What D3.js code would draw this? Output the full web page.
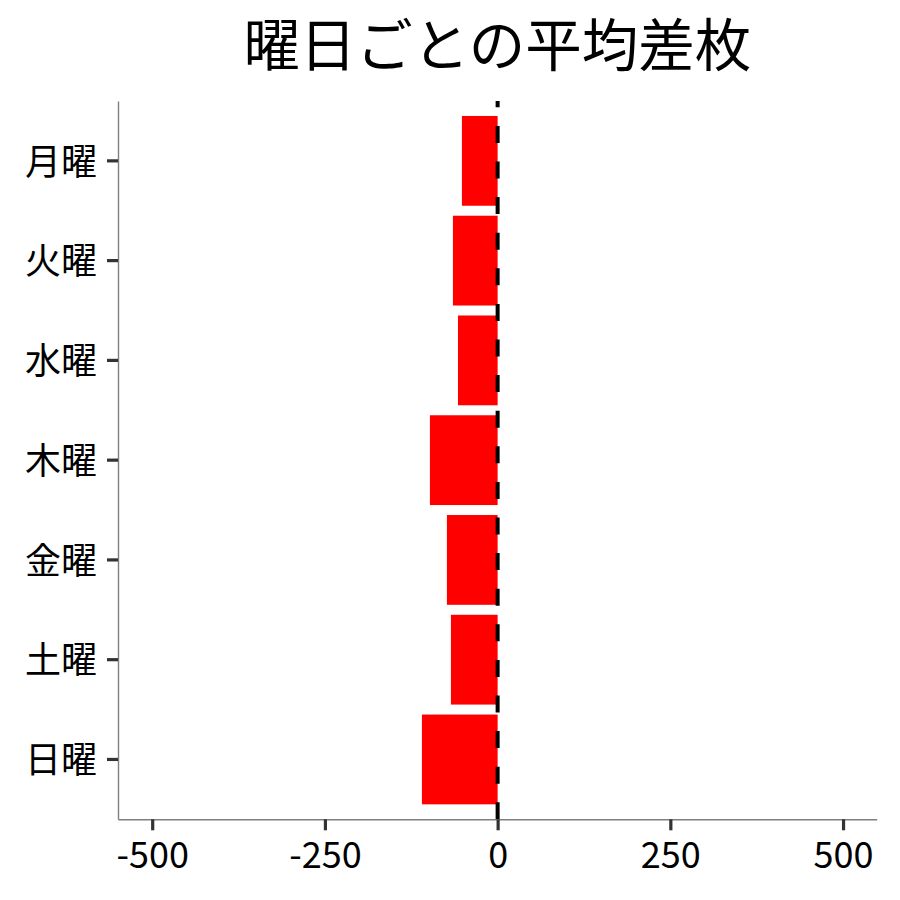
<!DOCTYPE html>
<html>
<head>
<meta charset="utf-8">
<script src="https://cdn.jsdelivr.net/npm/d3@7"></script>
<style>
  html, body { margin: 0; padding: 0; background: #fff; }
  svg { display: block; }
  text { font-family: "Noto Sans CJK JP", "Noto Sans", sans-serif; }
</style>
</head>
<body>
<svg id="chart" width="900" height="900"></svg>
<script>
const title = "曜日ごとの平均差枚";
const days = ["月曜", "火曜", "水曜", "木曜", "金曜", "土曜", "日曜"];
const avgDiff = [-51.7, -64.7, -57.4, -98, -73.4, -67.6, -109.6];
const xTicks = [-500, -250, 0, 250, 500];
const xDomain = [-549.5, 548.7];

(function () {
const data = days.map((d, i) => ({ day: d, value: avgDiff[i] }));

const svg = d3.select("#chart");
const pLeft = 118, pRight = 876.7, pTop = 101, pBottom = 819.3;

const x = d3.scaleLinear().domain(xDomain).range([pLeft, pRight]);
const y = d3.scaleBand().domain(days).range([pTop, pBottom])
  .paddingInner(0.1).paddingOuter(0.15);

// bars
svg.append("g").selectAll("rect").data(data).join("rect")
  .attr("x", d => x(Math.min(0, d.value)))
  .attr("y", d => y(d.day))
  .attr("width", d => Math.abs(x(d.value) - x(0)))
  .attr("height", y.bandwidth())
  .attr("fill", "#ff0000");

// zero line (dashed), drawn from bottom to top
svg.append("line")
  .attr("x1", x(0)).attr("x2", x(0))
  .attr("y1", pBottom).attr("y2", pTop)
  .attr("stroke", "#000")
  .attr("stroke-width", 4)
  .attr("stroke-dasharray", "17,18.6");

// x axis
const gx = svg.append("g").attr("transform", `translate(0,${pBottom})`)
  .call(d3.axisBottom(x).tickValues(xTicks).tickFormat(d3.format("d"))
    .tickSize(11).tickPadding(12).tickSizeOuter(0));
gx.select(".domain").attr("stroke", "#7f7f7f").attr("stroke-width", 1.4);
gx.selectAll(".tick line").attr("stroke", "#333").attr("stroke-width", 3.2);
gx.selectAll(".tick text").attr("font-size", 36).attr("fill", "#000")
  .text(d => d < 0 ? "-" + Math.abs(d) : String(d));

// y axis
const gy = svg.append("g").attr("transform", `translate(${pLeft},0)`)
  .call(d3.axisLeft(y).tickSize(11).tickPadding(10).tickSizeOuter(0));
gy.select(".domain").attr("stroke", "#7f7f7f").attr("stroke-width", 1.4);
gy.selectAll(".tick line").attr("stroke", "#333").attr("stroke-width", 3.2);
gy.selectAll(".tick text").attr("font-size", 36).attr("fill", "#000").attr("dy", "0.38em");

// title
svg.append("text")
  .attr("x", (pLeft + pRight) / 2)
  .attr("y", 66)
  .attr("text-anchor", "middle")
  .attr("font-size", 56.5)
  .attr("fill", "#000")
  .text(title);
})();
</script>
</body>
</html>
